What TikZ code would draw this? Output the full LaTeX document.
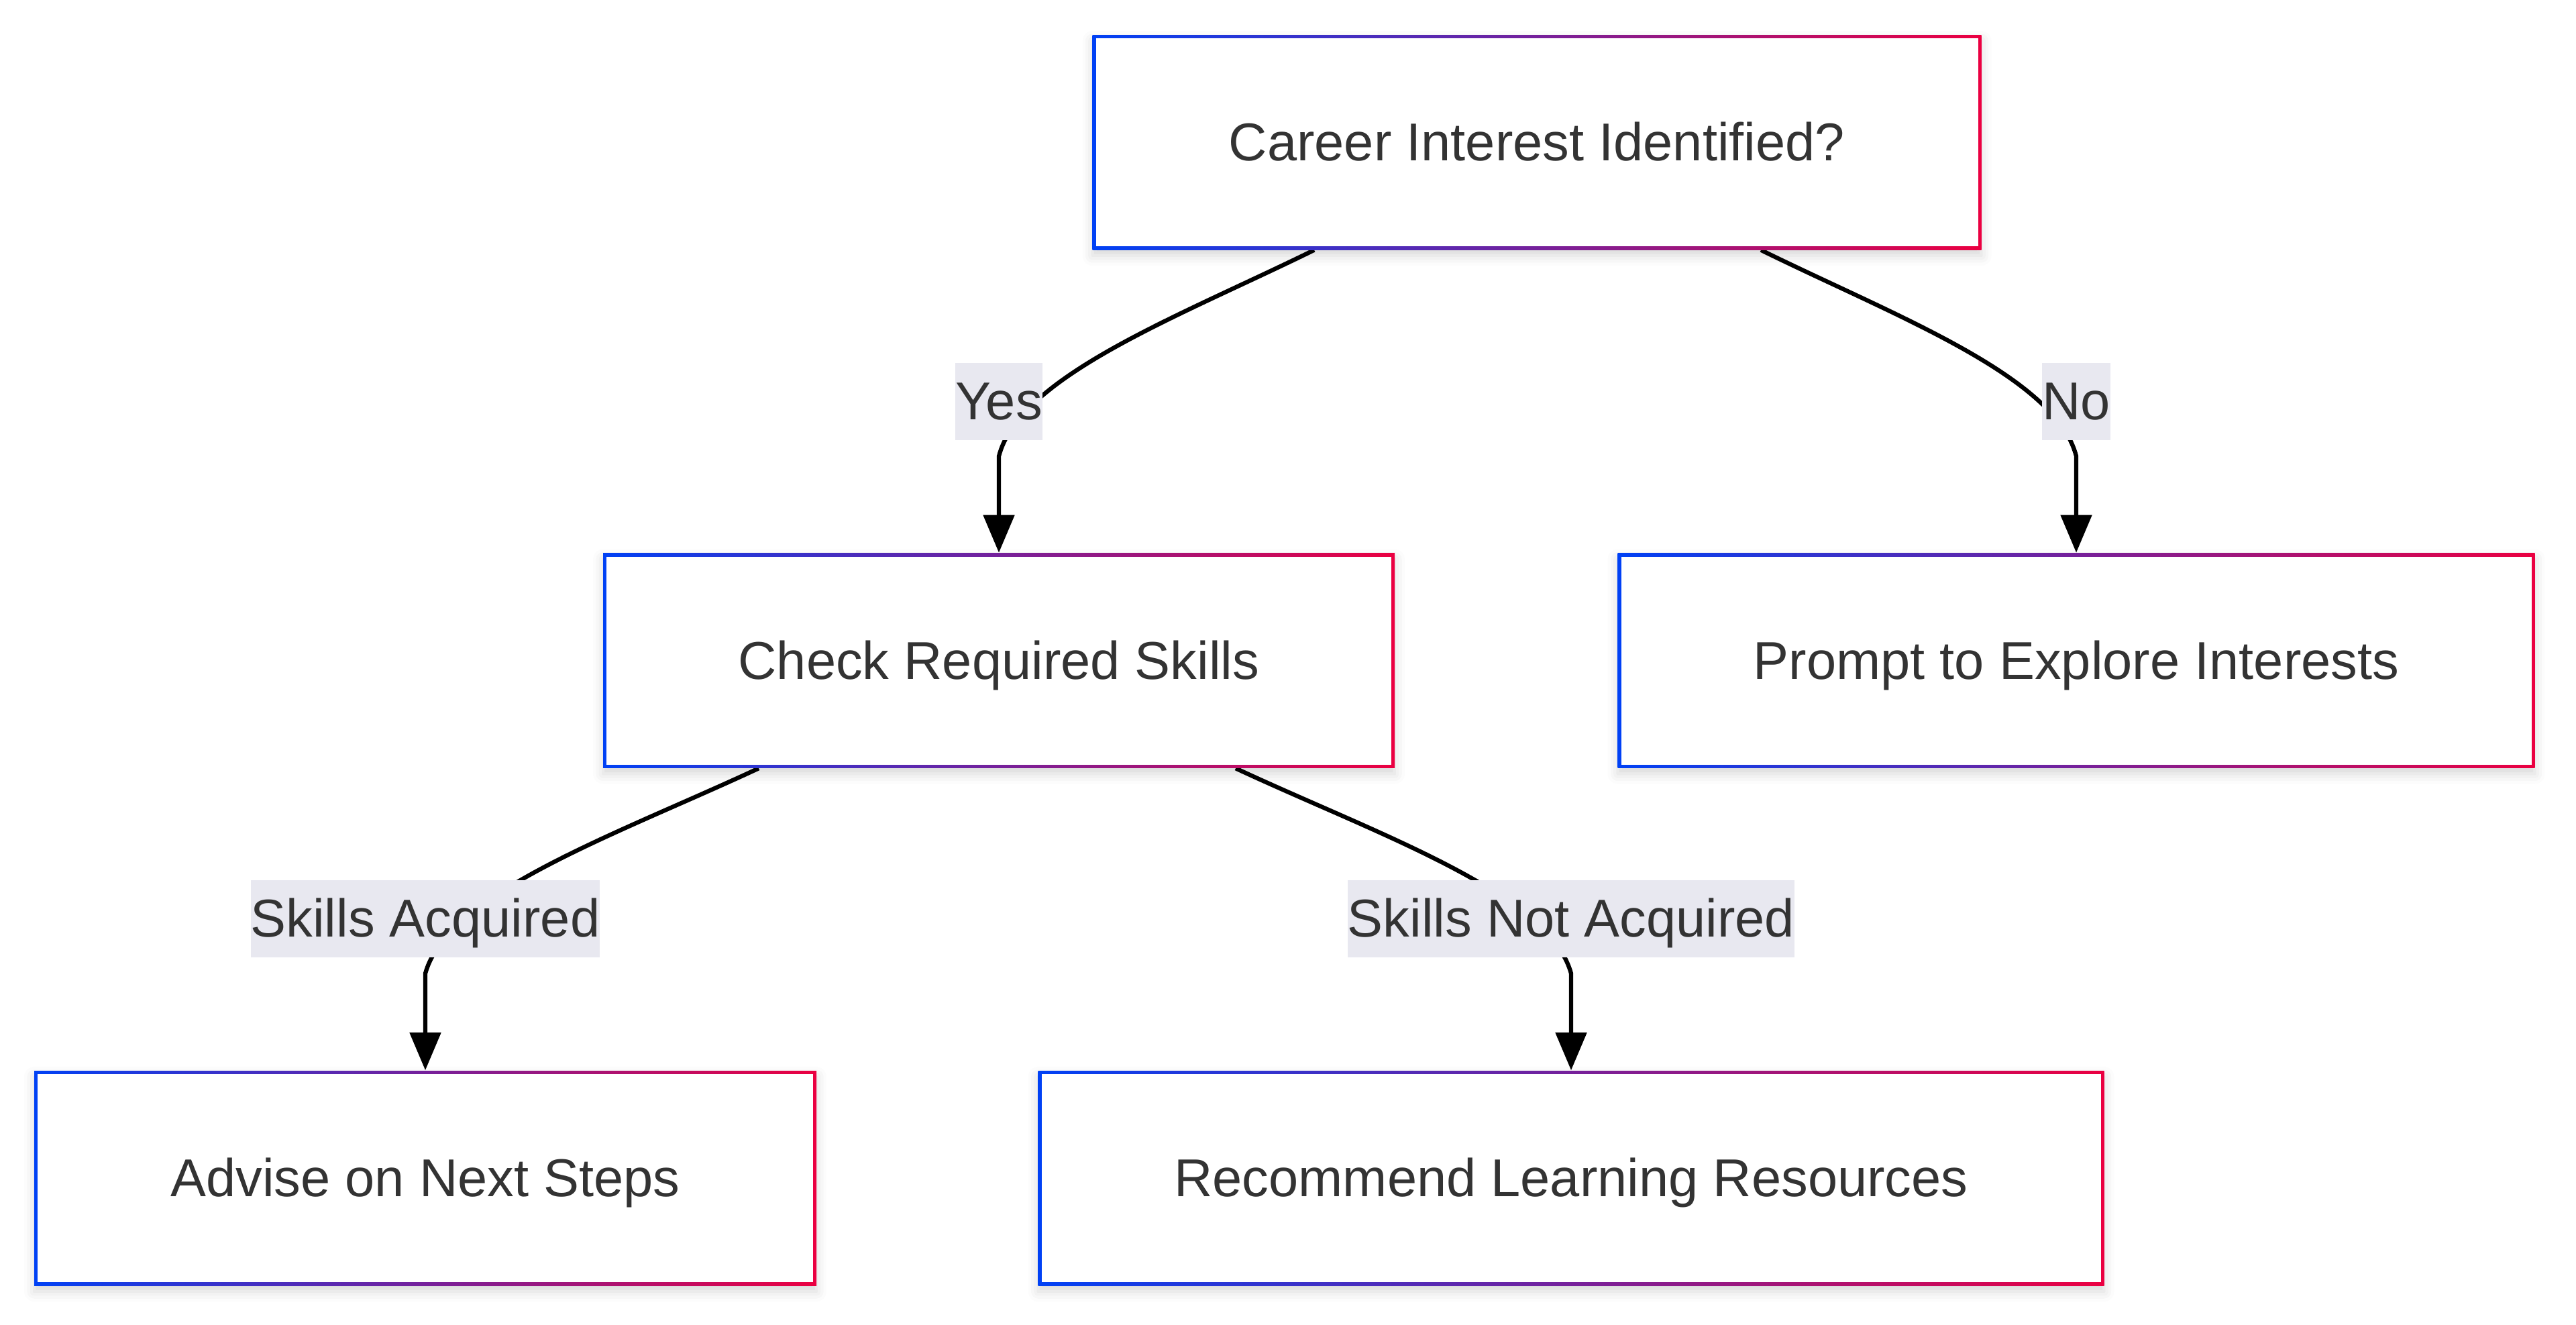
\documentclass[tikz,border=0pt]{standalone}
\usepackage{fontspec}
\setmainfont{Liberation Sans}
\usepackage{tikz}
\usetikzlibrary{arrows.meta}
\usetikzlibrary{shadows.blur, backgrounds}

\definecolor{leftblue}{RGB}{0,65,245}
\definecolor{rightred}{RGB}{235,0,65}
\definecolor{txtgray}{RGB}{51,51,51}
\definecolor{lblgray}{RGB}{232,232,240}

\tikzset{
  stepbox/.style={minimum height=3.2cm, inner sep=0pt, fill=white, text=txtgray,
    font=\fontsize{22.6}{27}\selectfont, text height=20.45pt, text depth=4.8pt,
    blur shadow={shadow xshift=0pt, shadow yshift=-0.09cm, shadow blur radius=0.15cm, shadow opacity=16},
    path picture={
      \shade[left color=leftblue, right color=rightred] (path picture bounding box.south west) rectangle (path picture bounding box.north east);
      \fill[white] ([shift={(0.05,0.05)}]path picture bounding box.south west) rectangle ([shift={(-0.05,-0.05)}]path picture bounding box.north east);
    }},
  lbl/.style={fill=lblgray, text=txtgray, inner xsep=0pt, minimum height=1.15cm,
    font=\fontsize{22.6}{27}\selectfont, text height=20.45pt, text depth=4.8pt},
  flow/.style={line width=1.8pt, -{Triangle[length=16pt,width=13pt]}}
}

\begin{document}
\begin{tikzpicture}
\useasboundingbox (0,0) rectangle (38.4,-19.74);

\node[stepbox, minimum width=13.25cm] (q) at (22.91,-2.12) {Career Interest Identified?};
\node[stepbox, minimum width=11.8cm] (check) at (14.89,-9.845) {Check Required Skills};
\node[stepbox, minimum width=13.67cm] (prompt) at (30.95,-9.845) {Prompt to Explore Interests};
\node[stepbox, minimum width=11.66cm] (advise) at (6.34,-17.56) {Advise on Next Steps};
\node[stepbox, minimum width=15.89cm] (recommend) at (23.42,-17.56) {Recommend Learning Resources};

\node[lbl] (yes) at (14.89,-5.98) {Yes};
\node[lbl] (no) at (30.95,-5.98) {No};
\node[lbl] (acq) at (6.34,-13.69) {Skills Acquired};
\node[lbl] (notacq) at (23.42,-13.69) {Skills Not Acquired};

\begin{scope}[on background layer]
\draw[flow] ([xshift=-3.32cm]q.south) .. controls +(-1.99,-0.98) and +(0.31,1.2) .. ([yshift=-0.82cm]yes.center) -- (check.north);
\draw[flow] ([xshift=3.34cm]q.south) .. controls +(1.99,-0.98) and +(-0.31,1.2) .. ([yshift=-0.82cm]no.center) -- (prompt.north);
\draw[flow] ([xshift=-3.58cm]check.south) .. controls +(-2.1,-0.98) and +(0.33,1.2) .. ([yshift=-0.82cm]acq.center) -- (advise.north);
\draw[flow] ([xshift=3.53cm]check.south) .. controls +(2.1,-0.98) and +(-0.33,1.2) .. ([yshift=-0.82cm]notacq.center) -- (recommend.north);
\end{scope}
\end{tikzpicture}
\end{document}
